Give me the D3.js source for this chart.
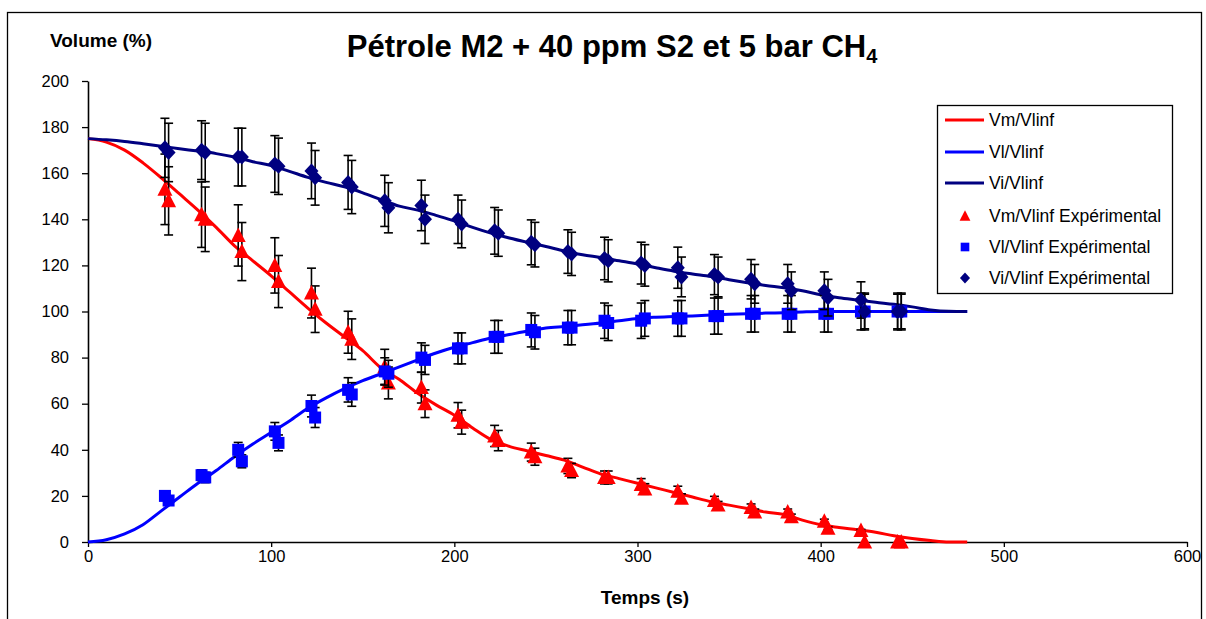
<!DOCTYPE html>
<html><head><meta charset="utf-8">
<script src="https://cdn.jsdelivr.net/npm/d3@7"></script>
<style>
body{margin:0;background:#fff}
svg{display:block}
text{font-family:"Liberation Sans",Arial,sans-serif;fill:#000}
</style>
</head><body>
<svg id="chart" width="1206" height="619"></svg>
<script>
// ---- data ----
const lineTime = [0,10,20,30,40,50,60,70,80,90,100,110,120,130,140,150,160,170,180,190,200,210,220,230,240,250,260,270,280,290,300,310,320,330,340,350,360,370,380,390,400,410,420,430,440,450,460,470,480];
const vmLine = [175,173.5,170,164.5,158,151,144,136.5,128.5,122,115.5,108.5,101.5,95,89,83,75.5,70.5,64.5,59.5,55,49.5,44.5,41.5,39.5,37.5,35.5,32.5,29.5,27.5,25.5,23.5,21.5,19.5,17.5,16,14.5,13,12,9.5,7.5,6.3,5.3,4.2,2.7,1.5,0.6,0,0];
const vlLine = [0,1,3.5,7.5,13.5,19.5,25.5,31,37,42.5,47.5,52.5,58,62.5,66.5,70,73,76,79,82,84.5,86.5,88.5,90,91.5,92.8,93.5,94.2,95,96,97,97.5,97.8,98.1,98.5,98.8,99,99.3,99.5,99.8,100,100,100,100,100,100,100,100,100];
const viLine = [175,174.5,173.8,172.8,171.7,170.6,169.6,168.5,167,165,163.3,160.8,158.2,156,154.1,151.5,148.5,145.7,144,141.7,139.3,136.5,134,131.9,130,128.2,126.2,124.6,123.4,122,120.6,119,117.5,116.3,115.2,113.8,112.5,111.3,110.3,109,107.3,106,105,104,103.1,102,100.7,100.1,100];

const expTimeA = [42,62,82,102,122,142,162,182,202,222,242,262,282,302,322,342,362,382,402,422,442];
const expTimeB = [44,64,84,104,124,144,164,184,204,224,244,264,284,304,324,344,364,384,404,424,444];
const vmExpA = [153,142,133,120,108,91,76,67,55,46,39,33,28,25,22,18,15,13,9,5,0];
const vmExpB = [148,140,126,113,101,88,69,60,52,44,37,31,28,23,19,16,13,11,6,0,0];
const vlExpA = [20,29,40,48,59,66,74,80,84,89,92,93,96,96,97,98,99,99,99,100,100];
const vlExpB = [18,28,35,43,54,64,73,79,84,89,91,93,95,97,97,98,99,99,99,100,100];
const viExpA = [171,170,167,164,161,156,148,146,140,135,130,126,123,121,119,116,114,112,109,105,100];
const viExpB = [169,169,167,163,158,154,145,140,138,134,129,125,122,120,115,115,112,109,106,100,100];
// error bars (percentage of value)
const vmErrPct = 10;
const vlErrPct = 8;
const viErrPct = 7.5;

const xTicks = [0,100,200,300,400,500,600];
const yTicks = [0,20,40,60,80,100,120,140,160,180,200];
const legendLabels = ["Vm/Vlinf","Vl/Vlinf","Vi/Vlinf","Vm/Vlinf Expérimental","Vl/Vlinf Expérimental","Vi/Vlinf Expérimental"];

// ---- styles ----
const cRed = "#FF0000", cBlue = "#0000FF", cNavy = "#000080";

const svg = d3.select("#chart");
svg.append("rect").attr("x",0).attr("y",0).attr("width",1206).attr("height",619).attr("fill","#fff");
// outer chart frame
svg.append("rect").attr("x",7.5).attr("y",12.5).attr("width",1194).attr("height",700)
   .attr("fill","none").attr("stroke","#000").attr("stroke-width",1.3);

const x = d3.scaleLinear().domain([0,600]).range([88,1187]);
const y = d3.scaleLinear().domain([0,200]).range([542,81]);

// axes
const yAxis = d3.axisLeft(y).tickValues(yTicks).tickSize(6).tickSizeOuter(0).tickPadding(13);
const xAxis = d3.axisBottom(x).tickValues(xTicks).tickSize(5).tickSizeOuter(0).tickPadding(3.5);
const gy = svg.append("g").attr("transform","translate(88,0)").call(yAxis);
const gx = svg.append("g").attr("transform","translate(0,542)").call(xAxis);
[gx,gy].forEach(g=>{
  g.select(".domain").attr("stroke","#000").attr("stroke-width",1.6);
  g.selectAll(".tick line").attr("stroke","#000").attr("stroke-width",1.3);
  g.selectAll(".tick text").attr("font-size","16.5px").attr("fill","#000")
   .attr("font-family","'Liberation Sans',Arial,sans-serif");
});

// titles
const title = svg.append("text").attr("x",612).attr("y",57).attr("text-anchor","middle")
  .attr("font-size","31px").attr("font-weight","bold");
title.append("tspan").text("Pétrole M2 + 40 ppm S2 et 5 bar CH");
title.append("tspan").attr("font-size","20px").attr("dy",6).text("4");

svg.append("text").attr("x",50).attr("y",47).attr("font-size","19px").attr("font-weight","bold").text("Volume (%)");
svg.append("text").attr("x",645).attr("y",604).attr("text-anchor","middle").attr("font-size","19px").attr("font-weight","bold").text("Temps (s)");

// model lines
const lineGen = d3.line().x(d=>x(d[0])).y(d=>y(d[1])).curve(d3.curveMonotoneX);
const lines = [[vmLine,cRed],[vlLine,cBlue],[viLine,cNavy]];
lines.forEach(([vals,col])=>{
  svg.append("path").datum(lineTime.map((t,i)=>[t,vals[i]]))
    .attr("d",lineGen).attr("fill","none").attr("stroke",col).attr("stroke-width",3)
    .attr("stroke-linejoin","round");
});

// markers
const triPath = "M0,-8L7.5,6.5L-7.5,6.5Z";
const sqPath = "M-6,-6L6,-6L6,6L-6,6Z";
const diaPath = "M0,-7.5L7,0L0,7.5L-7,0Z";

function expSeries(valsA, valsB, pct, shape, col){
  const pts = [];
  expTimeA.forEach((t,i)=>pts.push([t,valsA[i]]));
  expTimeB.forEach((t,i)=>pts.push([t,valsB[i]]));
  const g = svg.append("g");
  // error bars
  pts.forEach(([t,v])=>{
    const e = v*pct/100;
    if (e <= 0) return;
    const px = x(t), y1 = y(v+e), y2 = y(v-e);
    g.append("line").attr("x1",px).attr("x2",px).attr("y1",y1).attr("y2",y2).attr("stroke","#000").attr("stroke-width",1.6);
    g.append("line").attr("x1",px-4.5).attr("x2",px+4.5).attr("y1",y1).attr("y2",y1).attr("stroke","#000").attr("stroke-width",1.6);
    g.append("line").attr("x1",px-4.5).attr("x2",px+4.5).attr("y1",y2).attr("y2",y2).attr("stroke","#000").attr("stroke-width",1.6);
  });
  g.selectAll("path.m").data(pts).enter().append("path").attr("class","m")
    .attr("d",shape).attr("fill",col)
    .attr("transform",d=>`translate(${x(d[0])},${y(d[1])})`);
}
expSeries(vmExpA, vmExpB, vmErrPct, triPath, cRed);
expSeries(vlExpA, vlExpB, vlErrPct, sqPath, cBlue);
expSeries(viExpA, viExpB, viErrPct, diaPath, cNavy);

// legend
const lg = svg.append("g");
lg.append("rect").attr("x",937.5).attr("y",105.5).attr("width",235).attr("height",188)
  .attr("fill","#fff").attr("stroke","#000").attr("stroke-width",1.3);
const rowsY = [120,152,183,216,247,278];
const legendStyle = [["line",cRed],["line",cBlue],["line",cNavy],[triPath,cRed],[sqPath,cBlue],[diaPath,cNavy]];
legendLabels.forEach((lab,i)=>{
  const yy = rowsY[i];
  const [kind,col] = legendStyle[i];
  if (kind==="line") {
    lg.append("line").attr("x1",945).attr("x2",984).attr("y1",yy).attr("y2",yy).attr("stroke",col).attr("stroke-width",3);
  } else {
    lg.append("path").attr("d",kind).attr("fill",col).attr("transform",`translate(965,${yy}) scale(0.72)`);
  }
  lg.append("text").attr("x",989).attr("y",yy).attr("dy","0.35em").attr("font-size","17.5px").text(lab);
});
</script>
</body></html>
